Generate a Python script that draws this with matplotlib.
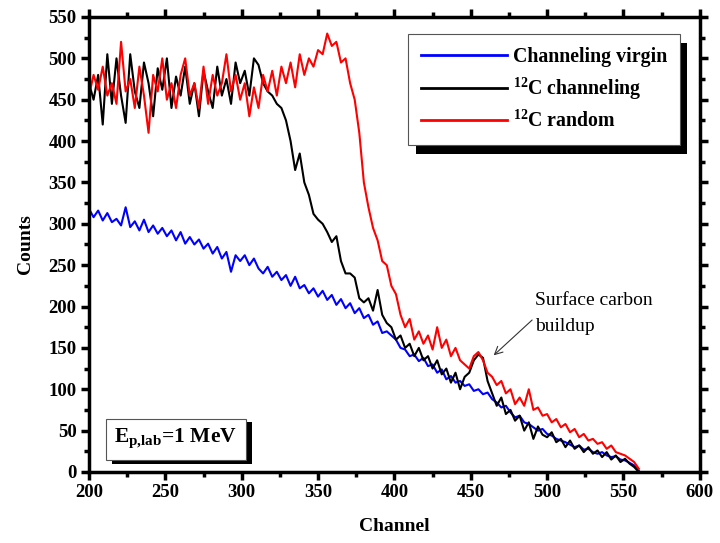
import matplotlib
matplotlib.use('Agg')
import matplotlib.pyplot as plt
import numpy as np
from matplotlib.patches import Rectangle

plt.rcParams['font.family'] = ['Liberation Serif', 'DejaVu Serif']
plt.rcParams['mathtext.fontset'] = 'custom'
plt.rcParams['mathtext.rm'] = 'Liberation Serif'
plt.rcParams['mathtext.bf'] = 'Liberation Serif:bold'

# counts every 3 channels, starting at channel 200
virgin = [318, 308, 316, 304, 313, 302, 306, 298, 320, 296,
          303, 292, 305, 290, 298, 288, 295, 285, 292, 280,
          290, 276, 284, 275, 281, 270, 276, 264, 272, 258,
          266, 242, 262, 255, 262, 250, 258, 246, 240, 248,
          236, 242, 232, 238, 225, 236, 222, 226, 216, 222,
          212, 219, 208, 214, 202, 209, 198, 204, 192, 198,
          186, 190, 178, 182, 168, 170, 165, 160, 150, 148,
          140, 142, 134, 138, 128, 130, 120, 124, 112, 116,
          108, 110, 104, 106, 98, 100, 94, 96, 88, 84,
          78, 80, 72, 66, 68, 60, 58, 54, 50, 52,
          46, 44, 40, 38, 36, 33, 30, 32, 27, 28,
          24, 22, 24, 20, 18, 19, 15, 14, 11, 8, 2]

c12_channeling = [470, 450, 480, 420, 505, 445, 500, 455, 422, 505,
                  460, 440, 495, 470, 430, 488, 462, 500, 440, 478,
                  455, 490, 445, 470, 430, 485, 460, 440, 490, 455,
                  475, 445, 495, 470, 485, 455, 500, 492, 470, 460,
                  455, 445, 440, 425, 400, 365, 385, 350, 335, 312,
                  305, 300, 290, 278, 285, 255, 240, 240, 235, 210,
                  205, 210, 195, 220, 190, 180, 175, 160, 165, 150,
                  155, 140, 150, 135, 140, 125, 135, 118, 125, 108,
                  120, 100, 115, 120, 135, 142, 138, 110, 95, 80,
                  90, 70, 75, 62, 68, 50, 60, 40, 55, 45,
                  42, 48, 36, 40, 30, 38, 28, 32, 24, 30,
                  22, 26, 18, 24, 15, 20, 12, 16, 10, 6, 0]

c12_random = [455, 480, 462, 490, 455, 470, 445, 520, 460, 475,
              440, 490, 455, 410, 480, 460, 500, 450, 470, 440,
              480, 500, 455, 470, 440, 490, 445, 480, 455, 470,
              505, 460, 480, 450, 470, 430, 465, 440, 480, 460,
              485, 455, 490, 470, 495, 465, 505, 480, 500, 490,
              510, 505, 530, 515, 520, 495, 500, 470, 450, 410,
              350, 320, 295, 280, 255, 250, 225, 215, 190, 175,
              185, 160, 170, 155, 165, 148, 175, 150, 160, 140,
              150, 135, 130, 125, 140, 145, 135, 120, 115, 105,
              110, 95, 100, 82, 90, 80, 100, 75, 78, 68,
              70, 60, 64, 54, 58, 48, 52, 42, 46, 38,
              40, 34, 36, 28, 32, 24, 22, 20, 16, 12, 4]

channels = np.arange(200, 200 + 3 * len(virgin), 3)

fig = plt.figure(figsize=(7.2, 5.43), dpi=100)
ax = fig.add_axes([0.1236, 0.1308, 0.8484, 0.8379])

ax.plot(channels, virgin, color='#0000ff', lw=1.5, label='Channeling virgin')
ax.plot(channels, c12_channeling, color='black', lw=1.5, label=r'$\mathbf{^{12}}$C channeling')
ax.plot(channels, c12_random, color='#ff0000', lw=1.5, label=r'$\mathbf{^{12}}$C random')

ax.set_xlim(200, 600)
ax.set_ylim(0, 550)
ax.set_xticks(np.arange(200, 601, 50))
ax.set_xticks(np.arange(225, 600, 50), minor=True)
ax.set_yticks(np.arange(0, 551, 50))
ax.set_yticks(np.arange(25, 550, 50), minor=True)
ax.tick_params(which='both', direction='out', top=True, right=True, width=2.5)
ax.tick_params(which='major', length=6, labelsize=13.5, pad=3)
ax.tick_params(which='minor', length=3.5)
for lab in ax.get_xticklabels() + ax.get_yticklabels():
    lab.set_fontweight('bold')
for sp in ax.spines.values():
    sp.set_linewidth(2.5)

ax.set_xlabel('Channel', fontsize=14, fontweight='bold', labelpad=12)
ax.set_ylabel('Counts', fontsize=14, fontweight='bold', labelpad=10)

# legend with a solid black drop shadow
leg = ax.legend(loc='upper right', bbox_to_anchor=(0.967, 0.963), frameon=True,
                fancybox=False, edgecolor='#555555', framealpha=1, borderaxespad=0,
                prop={'size': 14.3, 'weight': 'bold'}, handlelength=4.3,
                borderpad=0.65, labelspacing=0.45, handletextpad=0.3)
leg.get_frame().set_linewidth(0.8)
for h in leg.get_lines():
    h.set_linewidth(2)
leg.set_zorder(5)
fig.canvas.draw()
bb = leg.get_window_extent().transformed(ax.transAxes.inverted())
ax.add_patch(Rectangle((bb.x0 + 0.012, bb.y0 - 0.021), bb.width, bb.height,
                       transform=ax.transAxes, facecolor='black', edgecolor='none',
                       zorder=4, clip_on=False))

# energy box
ax.text(0.142, 0.072, r'E$_{\mathbf{p{,}lab}}$=1 MeV', transform=ax.transAxes,
        fontsize=15.5, fontweight='bold', va='center', ha='center', zorder=6,
        bbox=dict(boxstyle='square,pad=0.4', facecolor='white', edgecolor='#555555', lw=0.8))
fig.canvas.draw()
tb = ax.texts[-1].get_bbox_patch().get_window_extent().transformed(ax.transAxes.inverted())
ax.add_patch(Rectangle((tb.x0 + 0.01, tb.y0 - 0.008), tb.width, tb.height,
                       transform=ax.transAxes, facecolor='black', edgecolor='none',
                       zorder=5, clip_on=False))

ax.annotate('Surface carbon\nbuildup', xy=(465, 141), xytext=(492, 192),
            fontsize=14, va='center', ha='left', multialignment='left', linespacing=1.7,
            arrowprops=dict(arrowstyle='->', color='#333333', lw=0.8,
                            shrinkA=0, shrinkB=0,
                            relpos=(0, 0.4)))

fig.savefig('out.png', dpi=100)
